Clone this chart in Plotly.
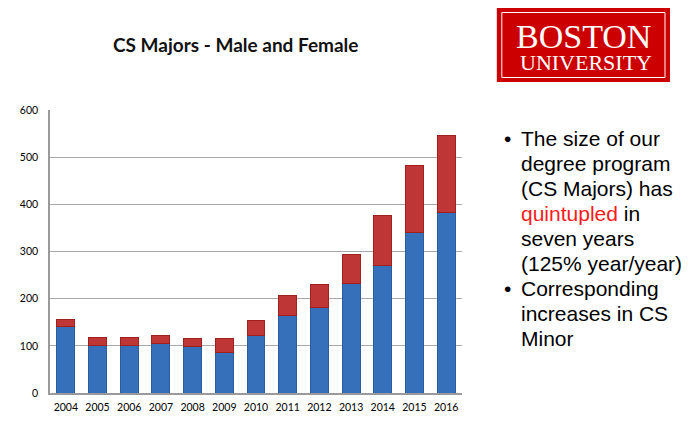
import plotly.graph_objects as go

years = ["2004", "2005", "2006", "2007", "2008", "2009", "2010",
         "2011", "2012", "2013", "2014", "2015", "2016"]
male = [140, 101, 100, 106, 98, 85, 122, 165, 181, 233, 271, 341, 383]
female = [16, 16, 17, 15, 17, 30, 32, 41, 49, 60, 105, 141, 163]
y_ticks = [0, 100, 200, 300, 400, 500, 600]

title_text = "CS Majors - Male and Female"
bullet_lines = [
    "The size of our",
    "degree program",
    "(CS Majors) has",
    "<span style='color:#ff1a1a'>quintupled</span> in",
    "seven years",
    "(125% year/year)",
    "Corresponding",
    "increases in CS",
    "Minor",
]
bullet_starts = [0, 6]

# page body has an 8px margin, so the figure is drawn at (8, 8)
OFF = 8
W, H = 700 - OFF, 431 - OFF
ML, MT = 48 - OFF, 110 - OFF
PW, PH = 414, 283
MR, MB = W - ML - PW, H - MT - PH


def px(x):
    return (x - OFF - ML) / PW


def py(y):
    return 1 - (y - OFF - MT) / PH


fig = go.Figure()
fig.add_trace(go.Bar(
    x=years, y=male, name="Male",
    marker=dict(color="#3670ba", line=dict(color="#2b5c9c", width=1)),
))
fig.add_trace(go.Bar(
    x=years, y=female, name="Female",
    marker=dict(color="#bf3636", line=dict(color="#a21f1f", width=1)),
))

annotations = []
annotations.append(dict(
    text="<b>" + title_text + "</b>", x=px(235), y=py(45), xref="paper", yref="paper",
    showarrow=False, xanchor="center", yanchor="middle",
    font=dict(family="Lato", size=19, color="#111111"),
))

for i, line in enumerate(bullet_lines):
    yc = 138.5 + 25 * i
    annotations.append(dict(
        text=line, x=px(519), y=py(yc), xref="paper", yref="paper",
        showarrow=False, xanchor="left", yanchor="middle",
        font=dict(family="Liberation Sans", size=21, color="#000000"),
    ))
    if i in bullet_starts:
        annotations.append(dict(
            text="•", x=px(502), y=py(yc), xref="paper", yref="paper",
            showarrow=False, xanchor="left", yanchor="middle",
            font=dict(family="Liberation Sans", size=21, color="#000000"),
        ))

# logo text
annotations.append(dict(
    text="BOSTON", x=px(584.5), y=py(36), xref="paper", yref="paper",
    showarrow=False, xanchor="center", yanchor="middle", height=30, valign="middle",
    font=dict(family="Liberation Serif", size=34, color="#ffffff"),
))
annotations.append(dict(
    text="UNIVERSITY", x=px(586.5), y=py(62.5), xref="paper", yref="paper",
    showarrow=False, xanchor="center", yanchor="middle", height=18, valign="middle",
    font=dict(family="Liberation Serif", size=22, color="#ffffff"),
))

shapes = [
    dict(type="rect", xref="paper", yref="paper",
         x0=px(497), x1=px(671), y0=py(8), y1=py(82),
         fillcolor="#cc0000", line=dict(width=0), layer="above"),
    dict(type="rect", xref="paper", yref="paper",
         x0=px(502), x1=px(666), y0=py(12.5), y1=py(77.5),
         fillcolor="rgba(0,0,0,0)", line=dict(color="#ffffff", width=1), layer="above"),
]

fig.update_layout(
    width=W, height=H,
    margin=dict(l=ML, r=MR, t=MT, b=MB),
    paper_bgcolor="#ffffff", plot_bgcolor="#ffffff",
    barmode="stack", bargap=0.435,
    showlegend=False,
    annotations=annotations,
    shapes=shapes,
    font=dict(family="Lato", size=10.5, color="#000000"),
    xaxis=dict(
        type="category", showgrid=False, showline=True, linecolor="#9a9a9a",
        linewidth=1.5, ticks="", tickfont=dict(family="Lato", size=10.5, color="#000"),
        ticklabelstandoff=4,
    ),
    yaxis=dict(
        range=[0, 600], tickvals=y_ticks, showgrid=True, gridcolor="#a8a8a8",
        gridwidth=1, showline=True, linecolor="#9a9a9a", linewidth=1.5,
        zeroline=False, ticks="", tickfont=dict(family="Lato", size=10.5, color="#000"),
        ticklabelstandoff=8,
    ),
)

fig.write_html("out.html")
